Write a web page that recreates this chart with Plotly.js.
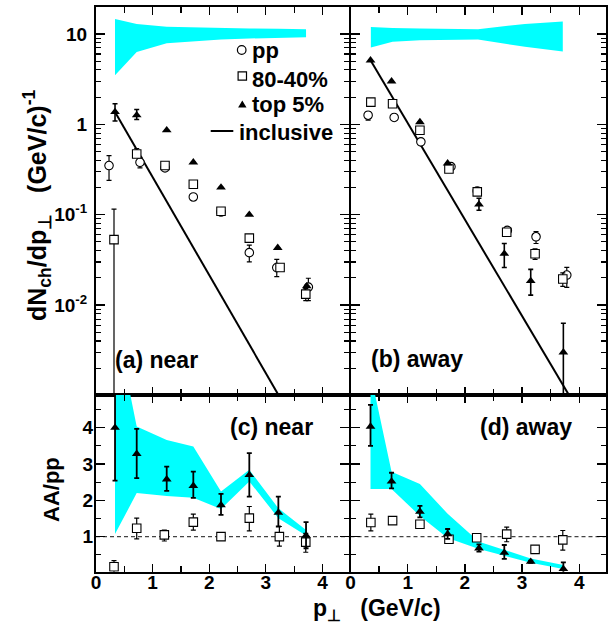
<!DOCTYPE html>
<html><head><meta charset="utf-8">
<script src="https://cdn.plot.ly/plotly-3.0.1.min.js"></script>
<style>html,body{margin:0;padding:0;background:#fff;} #chart{width:608px;height:623px;}</style>
</head><body><div id="chart"></div>
<script>
// ---------- DATA ----------
// (a) near side spectra
var nearPpX = [0.23, 0.777, 1.219, 1.719, 2.208, 2.708, 3.193, 3.751];
var nearPpY = [0.35, 0.38, 0.33, 0.157, 0.107, 0.038, 0.026, 0.0158];
var nearPpErrHi = [0.10, 0.05, 0, 0, 0, 0.008, 0.006, 0.004];
var nearPpErrLo = [0.11, 0.05, 0, 0, 0, 0.008, 0.0054, 0.0046];

var nearMidX = [0.318, 0.719, 1.219, 1.719, 2.208, 2.708, 3.251, 3.705];
var nearMidY = [0.053, 0.47, 0.35, 0.217, 0.109, 0.055, 0.026, 0.0132];
var nearMidErrHi = [0.062, 0.07, 0, 0, 0, 0, 0, 0.002];
var nearMidErrLo = [0.0529, 0.04, 0, 0, 0, 0, 0, 0.002];

var nearTopX = [0.336, 0.719, 1.249, 1.719, 2.208, 2.708, 3.21, 3.723];
var nearTopY = [1.37, 1.26, 0.86, 0.38, 0.20, 0.10, 0.043, 0.0162];
var nearTopErrHi = [0.32, 0.20, 0, 0, 0, 0, 0, 0];
var nearTopErrLo = [0.28, 0.13, 0, 0, 0, 0, 0, 0];

var nearInclX = [0.336, 3.4];
var nearInclY = [1.37, 0.00065];

var nearBandX = [0.336, 0.719, 1.249, 1.719, 2.208, 2.708, 3.221, 3.710];
var nearBandHi = [14.6, 12.9, 12.0, 11.8, 11.6, 11.5, 11.4, 11.3];
var nearBandLo = [3.5, 6.3, 7.9, 8.3, 8.7, 8.9, 9.1, 9.2];

// (b) away side spectra
var awayPpX = [0.308, 0.764, 1.231, 1.757, 2.217, 2.743, 3.245, 3.783];
var awayPpY = [1.26, 1.19, 0.64, 0.34, 0.183, 0.067, 0.057, 0.0215];
var awayPpErrHi = [0.12, 0, 0, 0, 0.012, 0.006, 0.008, 0.0046];
var awayPpErrLo = [0.15, 0, 0, 0, 0.012, 0.006, 0.009, 0.0058];

var awayMidX = [0.356, 0.736, 1.214, 1.722, 2.217, 2.732, 3.228, 3.713];
var awayMidY = [1.76, 1.69, 0.86, 0.32, 0.179, 0.064, 0.037, 0.0194];
var awayMidErr = [0, 0, 0, 0, 0, 0.006, 0.005, 0.0033];

var awayTopX = [0.350, 0.718, 1.214, 1.699, 2.247, 2.690, 3.152, 3.723];
var awayTopY = [5.1, 2.99, 1.06, 0.37, 0.13, 0.037, 0.0185, 0.0030];
var awayTopErrHi = [0, 0, 0, 0, 0.022, 0.011, 0.0063, 0.0033];
var awayTopErrLo = [0, 0, 0, 0, 0.018, 0.011, 0.0056, 0.00299];

var awayInclX = [0.35, 4.0];
var awayInclY = [5.1, 0.00065];

var awayBandX = [0.356, 0.736, 1.214, 2.23, 3.05, 3.713];
var awayBandHi = [11.9, 11.6, 11.5, 11.3, 12.9, 13.7];
var awayBandLo = [7.1, 8.2, 8.5, 8.7, 7.2, 6.4];

// (c) near side AA/pp
var ratNearTopX = [0.336, 0.719, 1.249, 1.719, 2.208, 2.708, 3.221, 3.710];
var ratNearTopY = [4.0, 3.28, 2.58, 2.40, 1.87, 2.70, 1.66, 1.03];
var ratNearTopErrHi = [1.0, 0.69, 0.35, 0.39, 0.31, 0.60, 0.44, 0.37];
var ratNearTopErrLo = [1.46, 0.67, 0.32, 0.33, 0.27, 0.60, 0.38, 0.35];

var ratNearMidX = [0.318, 0.719, 1.207, 1.719, 2.208, 2.708, 3.239, 3.705];
var ratNearMidY = [0.17, 1.23, 1.05, 1.40, 1.0, 1.51, 1.0, 0.85];
var ratNearMidErrHi = [0.17, 0.28, 0.13, 0.22, 0.1, 0.32, 0.28, 0.24];
var ratNearMidErrLo = [0.17, 0.29, 0.17, 0.22, 0.1, 0.35, 0.26, 0.28];

var ratNearBandX = [0.336, 0.719, 1.249, 1.719, 2.208, 2.708, 3.221, 3.710];
var ratNearBandHi = [7.0, 4.03, 3.66, 3.48, 2.24, 2.84, 1.78, 1.18];
var ratNearBandLo = [1.07, 2.2, 2.12, 2.07, 1.76, 2.52, 1.51, 1.03];

// (d) away side AA/pp
var ratAwayTopX = [0.350, 0.718, 1.214, 1.699, 2.247, 2.690, 3.152, 3.723];
var ratAwayTopY = [4.03, 2.52, 1.69, 1.07, 0.68, 0.56, 0.31, 0.11];
var ratAwayTopErrHi = [0.60, 0.24, 0.16, 0.14, 0.11, 0.21, 0.03, 0.18];
var ratAwayTopErrLo = [0.53, 0.19, 0.16, 0.13, 0.09, 0.17, 0.03, 0.11];

var ratAwayMidX = [0.356, 0.736, 1.214, 1.722, 2.207, 2.732, 3.228, 3.713];
var ratAwayMidY = [1.39, 1.44, 1.34, 0.93, 0.97, 1.07, 0.65, 0.91];
var ratAwayMidErrHi = [0.23, 0.05, 0.05, 0.05, 0.05, 0.19, 0.06, 0.26];
var ratAwayMidErrLo = [0.23, 0.05, 0.05, 0.05, 0.05, 0.21, 0.06, 0.28];

var ratAwayBandX = [0.350, 0.718, 1.214, 1.699, 2.247, 2.690, 3.152, 3.723];
var ratAwayBandHi = [5.5, 2.79, 2.45, 1.63, 0.86, 0.63, 0.40, 0.22];
var ratAwayBandLo = [2.31, 2.31, 1.57, 0.96, 0.66, 0.48, 0.28, 0.11];

var specTickVals = [0.01, 0.1, 1, 10];
var specTickText = ['10<sup>-2</sup>', '10<sup>-1</sup>', '1', '10'];
var xTickVals = [0, 1, 2, 3, 4];
var ratTickVals = [1, 2, 3, 4];

// ---------- HELPERS ----------
var W = 608, H = 623;
function PX(p) { return p / W; }
function PY(p) { return 1 - p / H; }
var FONT = 'Liberation Sans, Arial, Helvetica, sans-serif';

function band(xs, hi, lo, xa, ya) {
  return {
    x: xs.concat(xs.slice().reverse()),
    y: hi.concat(lo.slice().reverse()),
    xaxis: xa, yaxis: ya, mode: 'lines', fill: 'toself',
    fillcolor: '#00ffff', line: {width: 0, color: '#00ffff'},
    hoverinfo: 'skip', showlegend: false
  };
}
function pts(xs, ys, hi, lo, sym, xa, ya, thick) {
  var open = (sym !== 'triangle-up');
  return {
    x: xs, y: ys, xaxis: xa, yaxis: ya, mode: 'markers', showlegend: false,
    marker: {symbol: sym, size: 8.5, color: open ? '#fff' : '#000', line: {width: open ? 1.1 : 0, color: '#000'}},
    error_y: {type: 'data', symmetric: false, array: hi, arrayminus: lo,
      color: '#000', thickness: thick || 1.2, width: 2.5}
  };
}
function line(xs, ys, xa, ya) {
  return {x: xs, y: ys, xaxis: xa, yaxis: ya, mode: 'lines',
    line: {color: '#000', width: 2}, showlegend: false, hoverinfo: 'skip'};
}

var traces = [
  band(nearBandX, nearBandHi, nearBandLo, 'x', 'y'),
  band(awayBandX, awayBandHi, awayBandLo, 'x2', 'y2'),
  band(ratNearBandX, ratNearBandHi, ratNearBandLo, 'x3', 'y3'),
  band(ratAwayBandX, ratAwayBandHi, ratAwayBandLo, 'x4', 'y4'),
  line(nearInclX, nearInclY, 'x', 'y'),
  line(awayInclX, awayInclY, 'x2', 'y2'),
  pts(nearPpX, nearPpY, nearPpErrHi, nearPpErrLo, 'circle', 'x', 'y'),
  pts(nearMidX, nearMidY, nearMidErrHi, nearMidErrLo, 'square', 'x', 'y'),
  pts(nearTopX, nearTopY, nearTopErrHi, nearTopErrLo, 'triangle-up', 'x', 'y', 1.6),
  pts(awayPpX, awayPpY, awayPpErrHi, awayPpErrLo, 'circle', 'x2', 'y2'),
  pts(awayMidX, awayMidY, awayMidErr, awayMidErr, 'square', 'x2', 'y2'),
  pts(awayTopX, awayTopY, awayTopErrHi, awayTopErrLo, 'triangle-up', 'x2', 'y2', 1.6),
  pts(ratNearMidX, ratNearMidY, ratNearMidErrHi, ratNearMidErrLo, 'square', 'x3', 'y3'),
  pts(ratNearTopX, ratNearTopY, ratNearTopErrHi, ratNearTopErrLo, 'triangle-up', 'x3', 'y3', 1.8),
  pts(ratAwayMidX, ratAwayMidY, ratAwayMidErrHi, ratAwayMidErrLo, 'square', 'x4', 'y4'),
  pts(ratAwayTopX, ratAwayTopY, ratAwayTopErrHi, ratAwayTopErrLo, 'triangle-up', 'x4', 'y4', 1.8)
];

var minorLog = [];
for (var d = -3; d <= 1; d++) for (var k = 2; k <= 9; k++) minorLog.push(k * Math.pow(10, d));

var tickFont = {family: FONT, size: 19, color: '#000', weight: 'bold'};
var domL = [PX(96), PX(348.5)], domR = [PX(350.5), PX(605.5)];
var domT = [PY(395), PY(7)], domB = [PY(571.7), PY(395)];
var xRange = [0, 4.46];

function xax(dom, anchor, labels) {
  return {domain: dom, anchor: anchor, range: xRange, showgrid: false, zeroline: false,
    showline: true, linecolor: '#000', linewidth: 2, mirror: 'allticks',
    ticks: 'inside', ticklen: 8, tickwidth: 1.3, tickcolor: '#000',
    tickmode: 'array', tickvals: xTickVals, showticklabels: labels, tickfont: tickFont,
    ticklabelstandoff: -8,
    minor: {tickmode: 'linear', tick0: 0.5, dtick: 1, ticks: 'inside', ticklen: 6, tickwidth: 1.2, tickcolor: '#000', showgrid: false}};
}
function yaxSpec(dom, anchor, labels) {
  return {domain: dom, anchor: anchor, type: 'log', range: [-2.995, 1.298], showgrid: false, zeroline: false,
    showline: true, linecolor: '#000', linewidth: 2, mirror: 'allticks',
    ticks: 'inside', ticklen: 9, tickwidth: 1.3, tickcolor: '#000',
    tickmode: 'array', tickvals: specTickVals, ticktext: specTickText,
    showticklabels: labels, tickfont: tickFont, ticklabelstandoff: 3,
    minor: {tickmode: 'array', tickvals: minorLog, ticks: 'inside', ticklen: 5, tickwidth: 1.1, tickcolor: '#000', showgrid: false}};
}
function yaxRat(dom, anchor, labels) {
  return {domain: dom, anchor: anchor, range: [0.035, 4.9], showgrid: false, zeroline: false,
    showline: true, linecolor: '#000', linewidth: 2, mirror: 'allticks',
    ticks: 'inside', ticklen: 9, tickwidth: 1.3, tickcolor: '#000',
    tickmode: 'array', tickvals: ratTickVals,
    showticklabels: labels, tickfont: tickFont, ticklabelstandoff: -3,
    minor: {tickmode: 'linear', tick0: 0.5, dtick: 1, ticks: 'inside', ticklen: 5, tickwidth: 1.1, tickcolor: '#000', showgrid: false}};
}

function ann(text, x, y, size, opt) {
  var a = {text: text, x: PX(x), y: PY(y), xref: 'paper', yref: 'paper', showarrow: false,
    xanchor: 'left', yanchor: 'middle', font: {family: FONT, size: size, color: '#000', weight: 'bold'}};
  for (var k in opt) a[k] = opt[k];
  return a;
}

var annotations = [
  ann('pp', 250, 51, 22),
  ann('80-40%', 250, 80, 22),
  ann('top 5%', 250, 105, 22),
  ann('inclusive', 237, 133, 22),
  ann('(a) near', 113, 360, 23),
  ann('(b) away', 369, 359, 23),
  ann('(c) near', 228, 427, 23),
  ann('(d) away', 478, 427, 23),
  ann('dN<sub>ch</sub>/dp<sub>\u22a5</sub>\u00a0\u00a0\u00a0(GeV/c)<sup>-1</sup>', 37, 206, 25, {textangle: -90, xanchor: 'center'}),
  ann('AA/pp', 51, 490, 22, {textangle: -90, xanchor: 'center'}),
  ann('p<sub>\u22a5</sub>\u00a0\u00a0\u00a0(GeV/c)', 377, 609, 23, {xanchor: 'center'})
];

var lc = {color: '#000', width: 1.2};
var shapes = [
  {type: 'circle', xref: 'paper', yref: 'paper', x0: PX(241.7 - 4.3), x1: PX(241.7 + 4.3), y0: PY(50 + 4.3), y1: PY(50 - 4.3), line: lc},
  {type: 'rect', xref: 'paper', yref: 'paper', x0: PX(242.3 - 4.2), x1: PX(242.3 + 4.2), y0: PY(76 + 4.2), y1: PY(76 - 4.2), line: lc},
  {type: 'path', xref: 'paper', yref: 'paper',
    path: 'M' + PX(242.3 - 4.2) + ',' + PY(104.3 + 3.3) + ' L' + PX(242.3 + 4.2) + ',' + PY(104.3 + 3.3) + ' L' + PX(242.3) + ',' + PY(104.3 - 3.8) + ' Z',
    fillcolor: '#000', line: {width: 0}},
  {type: 'line', xref: 'paper', yref: 'paper', x0: PX(210.7), x1: PX(233.3), y0: PY(131), y1: PY(131), line: {color: '#000', width: 2}},
  {type: 'line', xref: 'x3 domain', yref: 'y3', x0: 0, x1: 1, y0: 1, y1: 1, layer: 'below', line: {color: '#444', width: 1.2, dash: '4px,3px'}},
  {type: 'line', xref: 'x4 domain', yref: 'y4', x0: 0, x1: 1, y0: 1, y1: 1, layer: 'below', line: {color: '#444', width: 1.2, dash: '4px,3px'}}
];

var layout = {
  width: W, height: H, margin: {l: 0, r: 0, t: 0, b: 0},
  paper_bgcolor: '#fff', plot_bgcolor: 'rgba(0,0,0,0)',
  showlegend: false, font: {family: FONT, color: '#000'},
  xaxis: xax(domL, 'y', false),
  yaxis: yaxSpec(domT, 'x', true),
  xaxis2: xax(domR, 'y2', false),
  yaxis2: yaxSpec(domT, 'x2', false),
  xaxis3: xax(domL, 'y3', true),
  yaxis3: yaxRat(domB, 'x3', true),
  xaxis4: xax(domR, 'y4', true),
  yaxis4: yaxRat(domB, 'x4', false),
  annotations: annotations,
  shapes: shapes
};

Plotly.newPlot('chart', traces, layout, {staticPlot: true, displayModeBar: false});
</script></body></html>
